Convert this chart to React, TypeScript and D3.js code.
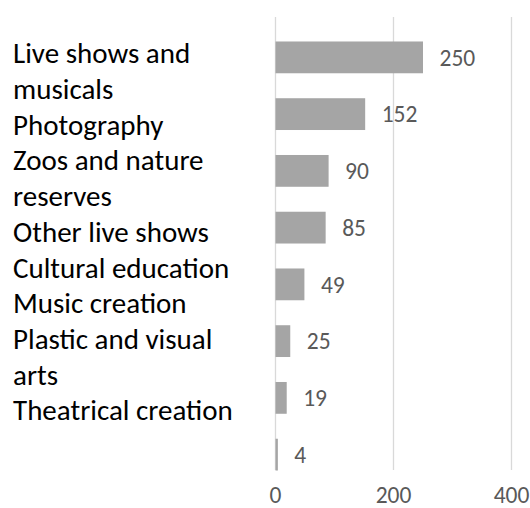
import React, { useRef, useEffect } from "react";
import * as d3 from "d3";

// categories, top to bottom (line breaks as in the original)
const categories = [
  "Live shows and\nmusicals",
  "Photography",
  "Zoos and nature\nreserves",
  "Other live shows",
  "Cultural education",
  "Music creation",
  "Plastic and visual\narts",
  "Theatrical creation",
];
const values = [250, 152, 90, 85, 49, 25, 19, 4];
const xTicks = [0, 200, 400];

const WIDTH = 530;
const HEIGHT = 508;
const FONT = "Carlito, Lato, 'Open Sans', sans-serif";

export default function App() {
  const svgRef = useRef<SVGSVGElement>(null);

  useEffect(() => {
    if (!svgRef.current) return;
    const svg = d3.select(svgRef.current);
    svg.selectAll("*").remove();

    const x = d3.scaleLinear().domain([0, 400]).range([275.5, 511.5]);
    const y = d3
      .scaleBand<number>()
      .domain(d3.range(values.length))
      .range([29, 483])
      .paddingInner(0.44)
      .paddingOuter(0.22);

    const gridTop = 17;
    const gridBottom = 470;

    // gridlines
    svg
      .append("g")
      .selectAll("line")
      .data(xTicks)
      .enter()
      .append("line")
      .attr("x1", (d) => x(d))
      .attr("x2", (d) => x(d))
      .attr("y1", gridTop)
      .attr("y2", gridBottom)
      .attr("stroke", "#d9d9d9")
      .attr("stroke-width", 1.3);

    // bars
    svg
      .append("g")
      .selectAll("rect")
      .data(values)
      .enter()
      .append("rect")
      .attr("x", x(0))
      .attr("y", (_, i) => y(i)!)
      .attr("width", (d) => x(d) - x(0))
      .attr("height", y.bandwidth())
      .attr("fill", "#a5a5a5");

    // value labels
    svg
      .append("g")
      .selectAll("text")
      .data(values)
      .enter()
      .append("text")
      .attr("x", (d) => x(d) + 16.5)
      .attr("y", (_, i) => y(i)! + y.bandwidth() / 2)
      .attr("dy", "0.35em")
      .attr("fill", "#595959")
      .style("font-family", FONT)
      .style("font-size", "23.5px")
      .text((d) => d);

    // x tick labels
    svg
      .append("g")
      .selectAll("text")
      .data(xTicks)
      .enter()
      .append("text")
      .attr("x", (d) => x(d))
      .attr("y", 503)
      .attr("text-anchor", "middle")
      .attr("fill", "#595959")
      .style("font-family", FONT)
      .style("font-size", "23.5px")
      .text((d) => d);

    // category labels, stacked lines from the top
    const lines = categories.flatMap((c) => c.split("\n"));
    svg
      .append("g")
      .selectAll("text")
      .data(lines)
      .enter()
      .append("text")
      .attr("x", 13)
      .attr("y", (_, i) => 63.3 + i * 35.7)
      .attr("fill", "#000")
      .style("font-family", FONT)
      .style("font-size", "29px")
      .text((d) => d);

    return () => {
      svg.selectAll("*").remove();
    };
  }, []);

  return (
    <svg
      ref={svgRef}
      width={WIDTH}
      height={HEIGHT}
      style={{ position: "absolute", left: 0, top: 0, background: "#fff" }}
    ></svg>
  );
}
